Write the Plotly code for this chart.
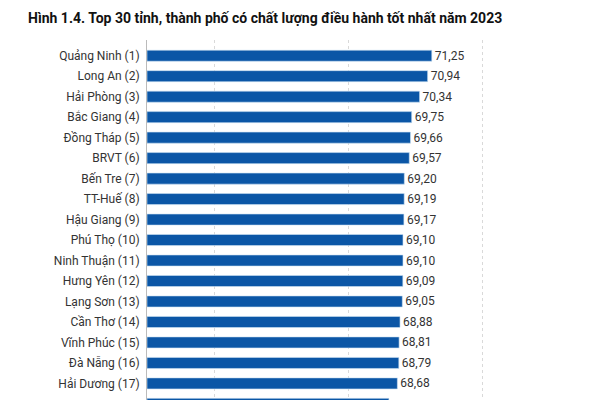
import plotly.graph_objects as go

provinces = ["Quảng Ninh (1)", "Long An (2)", "Hải Phòng (3)", "Bắc Giang (4)", "Đồng Tháp (5)",
             "BRVT (6)", "Bến Tre (7)", "TT-Huế (8)", "Hậu Giang (9)", "Phú Thọ (10)",
             "Ninh Thuận (11)", "Hưng Yên (12)", "Lạng Sơn (13)", "Cần Thơ (14)", "Vĩnh Phúc (15)",
             "Đà Nẵng (16)", "Hải Dương (17)", "Bình Thuận (18)"]
scores = [71.25, 70.94, 70.34, 69.75, 69.66, 69.57, 69.20, 69.19, 69.17, 69.10,
          69.10, 69.09, 69.05, 68.88, 68.81, 68.79, 68.68, 68.05]
title_text = "Hình 1.4. Top 30 tỉnh, thành phố có chất lượng điều hành tốt nhất năm 2023"

FONT = "Roboto, sans-serif"

fig = go.Figure(go.Bar(
    x=[s - 50 for s in scores], base=50,
    y=provinces, orientation="h",
    marker=dict(color="#0b56a6", line=dict(color="#cfe2f3", width=0.6)),
    text=scores, texttemplate="%{text:.2f}", textposition="outside",
    constraintext="none",
    textfont=dict(family=FONT, size=12, color="#333333"),
    cliponaxis=False, hoverinfo="skip",
))

# the last row is cut by the bottom edge of the picture; draw its texts so their tops show
last_label, last_score = provinces[-1], scores[-1]
fig.add_annotation(text=last_label, xref="paper", x=0, xanchor="right", xshift=-4,
                   yref="y", y=last_label, yanchor="middle", showarrow=False,
                   font=dict(family=FONT, size=12, color="#333333"))
fig.add_annotation(text=f"{last_score:.2f}".replace(".", ","), xref="x", x=last_score,
                   xanchor="left", xshift=2, yref="y", y=last_label, yanchor="middle",
                   showarrow=False, font=dict(family=FONT, size=12, color="#333333"))

fig.update_layout(
    width=600, height=400,
    margin=dict(l=147, r=0, t=40, b=0),
    paper_bgcolor="white", plot_bgcolor="white",
    separators=",.",
    bargap=0.46,
    showlegend=False,
    title=dict(text="<b>" + title_text + "</b>", x=28/600, xref="container", xanchor="left",
               y=1 - 18/400, yref="container", yanchor="middle",
               font=dict(family=FONT, size=14, color="#111111")),
    font=dict(family=FONT, color="#333333"),
)
fig.update_xaxes(range=[50, 83.8], showticklabels=False, ticks="",
                 showgrid=True, gridcolor="#d9d9d9", griddash="dot", gridwidth=1,
                 tick0=55, dtick=10, zeroline=False, showline=False, fixedrange=True)
fig.update_yaxes(range=[16.81, -0.767], ticks="", showgrid=False, showline=True,
                 linecolor="#bbbbbb", linewidth=1,
                 tickfont=dict(family=FONT, size=12, color="#333333"),
                 ticklabelstandoff=4)

fig.write_html("out.html")
